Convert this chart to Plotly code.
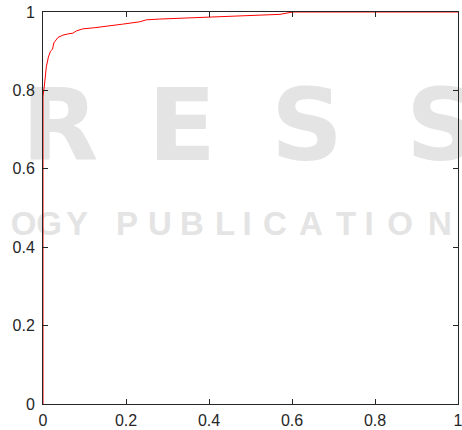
import plotly.graph_objects as go

# ROC curve (false positive rate vs true positive rate)
fpr = [0, 0, 0.004, 0.008, 0.013, 0.016, 0.018, 0.023, 0.026, 0.036, 0.048, 0.060, 0.072,
       0.081, 0.096, 0.125, 0.153, 0.192, 0.233, 0.249, 0.281, 0.330, 0.409, 0.491, 0.571,
       0.602, 1.0]
tpr = [0, 0.785, 0.819, 0.860, 0.885, 0.893, 0.900, 0.905, 0.921, 0.935, 0.941, 0.944, 0.946,
       0.952, 0.957, 0.960, 0.963, 0.969, 0.975, 0.980, 0.982, 0.984, 0.988, 0.990, 0.994,
       1.0, 1.0]
tick_vals = [0, 0.2, 0.4, 0.6, 0.8, 1]
tick_text = ["0", "0.2", "0.4", "0.6", "0.8", "1"]

# background watermark text (publisher logo)
wm_big = ["R", "E", "S", "S"]
wm_small = ["OG", "Y", "P", "U", "B", "L", "I", "C", "A", "T", "I", "O", "N"]


# page pixel -> data conversion (plot area spans x 43..458, y 12..404)
def px_x(p):
    return (p - 43) / 415.0


def px_y(p):
    return (404 - p) / 392.0


big_x = [60, 182, 307, 442]
small_x = [62, 77, 127, 160, 192, 225, 247, 275, 311, 346, 369, 400, 440]
small_pos = ["middle left"] + ["middle center"] * (len(small_x) - 1)

wm = "#e4e4e4"
fig = go.Figure()
fig.add_trace(go.Scatter(x=[px_x(p) for p in big_x], y=[px_y(135)] * len(big_x),
                         mode="text", text=wm_big, cliponaxis=False, hoverinfo="skip",
                         textfont=dict(family="DejaVu Sans", size=100, color=wm, weight="bold"),
                         showlegend=False))
fig.add_trace(go.Scatter(x=[px_x(p) for p in small_x], y=[px_y(227)] * len(small_x),
                         mode="text", text=wm_small, textposition=small_pos,
                         cliponaxis=False, hoverinfo="skip",
                         textfont=dict(family="Liberation Sans", size=33, color=wm, weight="bold"),
                         showlegend=False))

fig.add_trace(go.Scatter(x=fpr, y=tpr, mode="lines",
                         line=dict(color="#ff0000", width=1), showlegend=False))

axis_common = dict(range=[0, 1], tickvals=tick_vals, ticktext=tick_text,
                   ticks="inside", ticklen=5, tickcolor="#262626", tickwidth=1,
                   showline=True, linecolor="#262626", linewidth=1, mirror="ticks",
                   showgrid=False, zeroline=False, automargin=False,
                   ticklabeloverflow="allow",
                   tickfont=dict(family="Liberation Sans", size=16, color="#262626"))
fig.update_xaxes(**axis_common, ticklabelstandoff=2)
fig.update_yaxes(**axis_common, ticklabelstandoff=4)

fig.update_layout(width=462, height=430, margin=dict(l=43, r=4, t=12, b=26),
                  plot_bgcolor="rgba(0,0,0,0)", paper_bgcolor="white")

post = (
    "document.body.style.margin='0';"
    "document.body.style.overflow='hidden';"
)
fig.write_html("out.html", post_script=post, config={"displayModeBar": False})
